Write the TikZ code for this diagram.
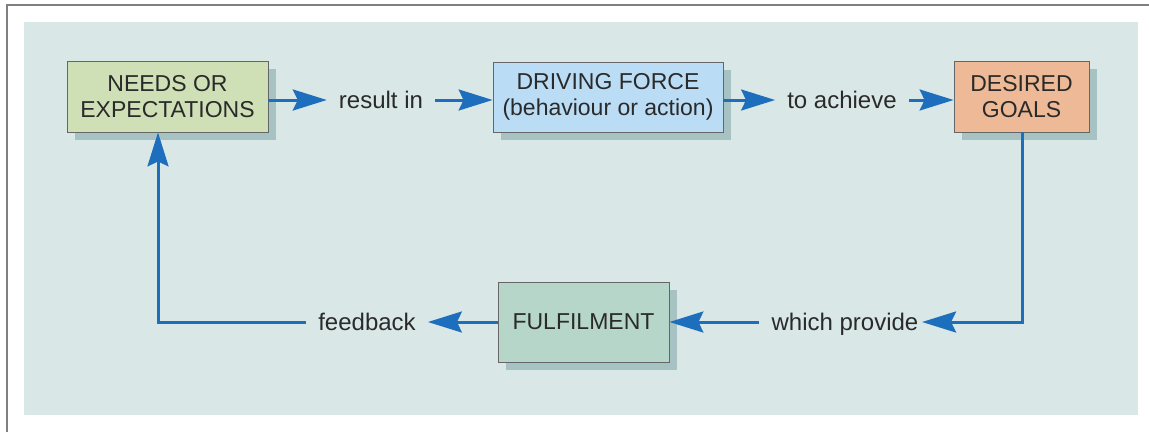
\documentclass[tikz,border=0pt]{standalone}
\usepackage{fontspec}
\setmainfont{Liberation Sans}
\usepackage{tikz}
\usetikzlibrary{arrows.meta,shadows}
\definecolor{panelbg}{HTML}{DAE7E7}
\definecolor{shadowc}{HTML}{A6C2C3}
\definecolor{needsc}{HTML}{CFE0B6}
\definecolor{drivec}{HTML}{BADCF5}
\definecolor{goalsc}{HTML}{EDB996}
\definecolor{fulfilc}{HTML}{B6D6C9}
\definecolor{flowc}{HTML}{1E6EBE}
\definecolor{textc}{HTML}{2A2A2A}
\begin{document}
\begin{tikzpicture}[x=1pt,y=-1pt]
		\tikzstyle{box} = [draw=black!60, line width=0.8pt, rectangle, align=center, text=textc,
			font=\fontsize{23}{26}\selectfont, inner sep=0pt,
			drop shadow={shadow xshift=8pt, shadow yshift=-8pt, fill=shadowc, opacity=1}]
		\tikzstyle{lbl} = [text=textc, font=\fontsize{24}{28}\selectfont, text height=16.5pt, text depth=0pt,
			inner ysep=0pt, inner xsep=12pt]
		\tikzstyle{flow} = [-{Stealth[length=34pt, width=21pt, inset=5pt]}, draw=flowc, line width=3pt]
		\useasboundingbox (0,0) rectangle (1149,432);
		\fill[panelbg] (24,22) rectangle (1138,415);
		\draw[black!50, line width=1.5pt] (7,432) -- (7,5) -- (1149,5);

		\node [box, fill=needsc, minimum width=201pt, minimum height=71pt] (needs) at (167.5,96.5) {NEEDS OR\\EXPECTATIONS};
		\node [box, fill=drivec, minimum width=230pt, minimum height=70pt] (drive) at (608,97) {DRIVING FORCE\\(behaviour or action)};
		\node [box, fill=goalsc, minimum width=135pt, minimum height=71pt] (goals) at (1021.5,96.5) {DESIRED\\GOALS};
		\node [box, fill=fulfilc, minimum width=171pt, minimum height=80pt] (fulfil) at (583.5,322) {FULFILMENT};

		\node [lbl] (res) at (381,100) {result in};
		\node [lbl] (ach) at (842,100) {to achieve};
		\node [lbl] (prov) at (845,322) {which provide};
		\node [lbl] (fb) at (367,322) {feedback};
		\coordinate (fbk) at (158,322);

		\draw[flow] (needs.east |- res) -- (res.west);
		\draw[flow] (res.east) -- (drive.west |- res);
		\draw[flow] (drive.east |- ach) -- (ach.west);
		\draw[flow] (ach.east) -- (goals.west |- ach);
		\draw[flow, shorten >=-8.5pt] (goals.south -| 1022,0) |- (prov.east);
		\draw[flow] (prov.west) -- (fulfil.east);
		\draw[flow] (fulfil.west) -- (fb.east);
		\draw[flow] (fb.west) -- (fbk) -- (fbk |- needs.south);
	\end{tikzpicture}
\end{document}
